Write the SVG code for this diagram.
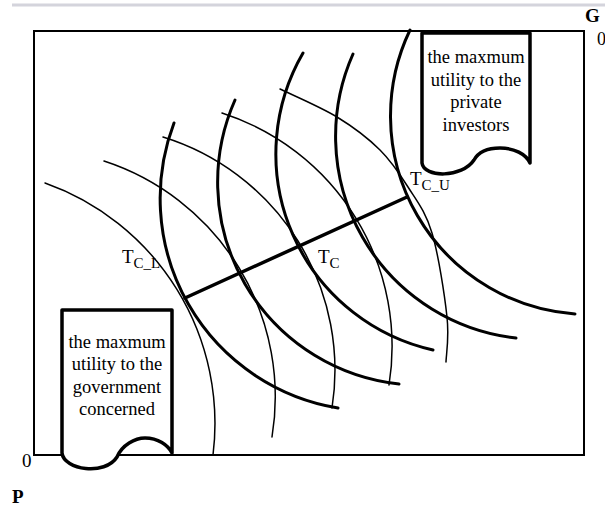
<svg xmlns="http://www.w3.org/2000/svg" width="605" height="513" viewBox="0 0 605 513">
<style>
.g{fill:none;stroke:#000;stroke-width:3;stroke-linecap:round}
.p{fill:none;stroke:#000;stroke-width:1.5;stroke-linecap:round}
.box{fill:none;stroke:#000;stroke-width:2}
.call{fill:#fff;stroke:#000;stroke-width:3.5;stroke-linejoin:round}
.t{font-family:"Liberation Serif","Times New Roman",serif;fill:#000}
.ct{font-family:"Liberation Serif","Times New Roman",serif;font-size:18.5px;fill:#000;text-anchor:middle}
</style>
<rect x="0" y="0" width="605" height="513" fill="#fff"/>
<line x1="12" y1="5" x2="605" y2="5" stroke="#d4d4dc" stroke-width="3"/>
<g id="frame">
<rect class="box" x="34" y="31" width="550" height="424"/>
</g>
<g id="curves-p">
<path class="p" d="M45,183 A255 255 0 0 1 213,455"/>
<path class="p" d="M104,161 A248 248 0 0 1 272,437"/>
<path class="p" d="M163,137 A244 244 0 0 1 332,408"/>
<path class="p" d="M222,113 A245 245 0 0 1 389,385"/>
<path class="p" d="M280,89 C289.5,93.7 320.3,106.8 337,117 C353.7,127.2 368.2,138.3 380,150 C391.8,161.7 399.3,173.2 408,187 C416.7,200.8 425.5,211.3 432,233 C438.5,254.7 444.7,295.5 447,317 C449.3,338.5 446.2,354.5 446,362"/>
</g>
<g id="curves-g">
<path class="g" d="M174,123 A212.4 212.4 0 0 0 338,408"/>
<path class="g" d="M235,100 A203 203 0 0 0 399,384"/>
<path class="g" d="M303,53 A201 201 0 0 0 433,350"/>
<path class="g" d="M353,54 A203 203 0 0 0 516,338"/>
<path class="g" d="M410,30 A198.7 198.7 0 0 0 575,314"/>
</g>
<g id="connectors">
<line x1="185" y1="298" x2="407" y2="197" stroke="#000" stroke-width="3.5" stroke-linecap="round"/>
</g>
<g id="private-investors">
<path class="call" d="M422,33 V163 C424,178 462,178 474,160 C479,151 490,148 500,148 C514,148 526,154 530,163 V33 Z"/>
<text class="ct" x="476" y="63">the maxmum</text>
<text class="ct" x="476" y="86">utility to the</text>
<text class="ct" x="476" y="108">private</text>
<text class="ct" x="476" y="131">investors</text>
</g>
<g id="government">
<path class="call" d="M62,310 V453 C64,470 105,476 117,457 C122,445 135,438 145,438 C158,438 168,445 172,453 V310 Z"/>
<text class="ct" x="117" y="348">the maxmum</text>
<text class="ct" x="117" y="370">utility to the</text>
<text class="ct" x="117" y="393">government</text>
<text class="ct" x="117" y="415">concerned</text>
</g>
<g id="labels">
<text class="t" x="122" y="263" font-size="19">T<tspan font-size="15" dy="5">C_L</tspan></text>
<text class="t" x="318" y="263" font-size="19">T<tspan font-size="15" dy="5">C</tspan></text>
<text class="t" x="410" y="185" font-size="19">T<tspan font-size="15" dy="5">C_U</tspan></text>
<text class="t" x="585" y="22" font-size="19" font-weight="bold">G</text>
<text class="t" x="597" y="45" font-size="18">0</text>
<text class="t" x="22" y="467" font-size="19">0</text>
<text class="t" x="12" y="503" font-size="19" font-weight="bold">P</text>
</g>
</svg>
